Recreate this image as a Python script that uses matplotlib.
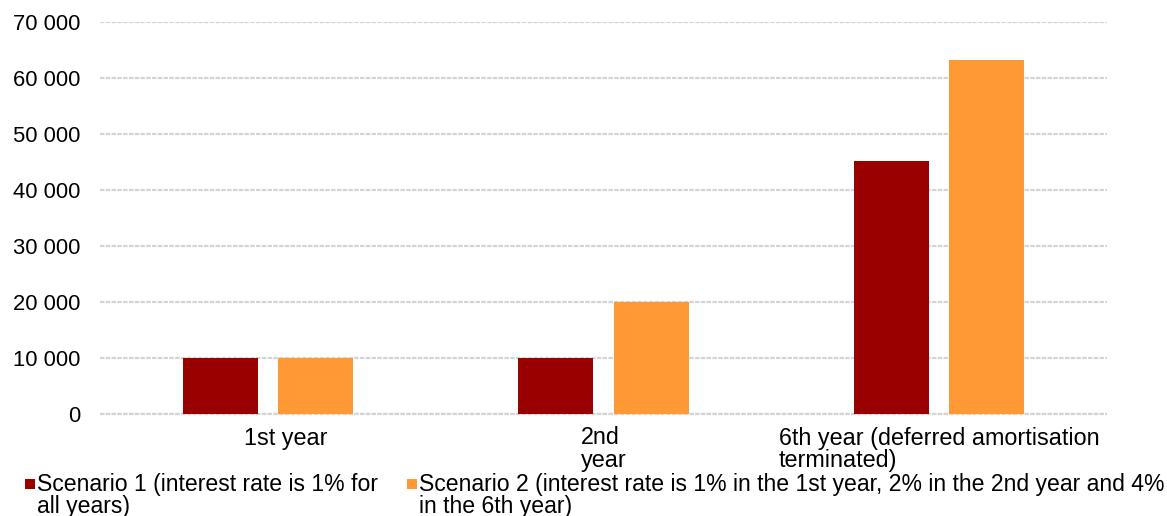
import matplotlib
matplotlib.use("Agg")
import matplotlib.pyplot as plt
import matplotlib.transforms as mtransforms
from matplotlib.patches import Rectangle
from matplotlib.ticker import FuncFormatter
import numpy as np

plt.rcParams['font.family'] = ['Liberation Sans', 'DejaVu Sans']

categories = ["1st year", "2nd\nyear", "6th year (deferred amortisation\nterminated)"]
scenario1 = [10000, 10000, 45200]
scenario2 = [10000, 20000, 63300]
series_labels = [
    "Scenario 1 (interest rate is 1% for\nall years)",
    "Scenario 2 (interest rate is 1% in the 1st year, 2% in the 2nd year and 4%\nin the 6th year)",
]
yticks = [0, 10000, 20000, 30000, 40000, 50000, 60000, 70000]

RED = "#990000"
ORANGE = "#FF9933"
FS_Y = 15.8
FS_X = 16.8
FS_LEG = 16.6

W, H = 1167, 516
fig = plt.figure(figsize=(W / 100, H / 100), dpi=100)
ax = fig.add_axes([100 / W, 1 - 414 / H, 1007 / W, 392 / H])

x = np.arange(len(categories))
bw = 0.223
off = 0.142
ax.bar(x - off, scenario1, width=bw, color=RED, zorder=3)
ax.bar(x + off, scenario2, width=bw, color=ORANGE, zorder=3)

ax.set_xlim(-0.5, len(categories) - 0.5)
ax.set_ylim(0, 70000)
ax.set_yticks(yticks)
ax.yaxis.set_major_formatter(FuncFormatter(lambda v, p: f"{int(v):,}".replace(",", " ")))
ax.grid(axis="y", color="#d4d4d4", linewidth=1.6, linestyle=(0, (2, 0.6)), zorder=0)
ax.set_axisbelow(True)
ax.axhline(0, color="#d4d4d4", linewidth=1.6, linestyle=(0, (2, 0.6)), zorder=1, clip_on=False)
for s in ax.spines.values():
    s.set_visible(False)

ax.tick_params(axis="y", length=0, pad=14, labelsize=FS_Y, labelcolor="black")
ax.tick_params(axis="x", length=0, pad=9, labelsize=FS_X, labelcolor="black")
ax.set_xticks(x)
ax.set_xticklabels(categories, multialignment="left", linespacing=0.96)
shift = mtransforms.ScaledTranslation(0.18, 0, fig.dpi_scale_trans)
lbl0 = ax.get_xticklabels()[0]
lbl0.set_transform(lbl0.get_transform() + shift)

# legend drawn along the bottom edge
legend_items = [(25, 37, RED, series_labels[0]), (407, 419, ORANGE, series_labels[1])]
for sx, tx, col, txt in legend_items:
    fig.patches.append(Rectangle((sx / W, 1 - 488.5 / H), 10 / W, 10 / H,
                                 transform=fig.transFigure, facecolor=col,
                                 edgecolor="none"))
    fig.text(tx / W, 1 - 472.5 / H, txt, fontsize=FS_LEG, va="top", ha="left",
             linespacing=0.98)

fig.savefig("out.png", dpi=100)
